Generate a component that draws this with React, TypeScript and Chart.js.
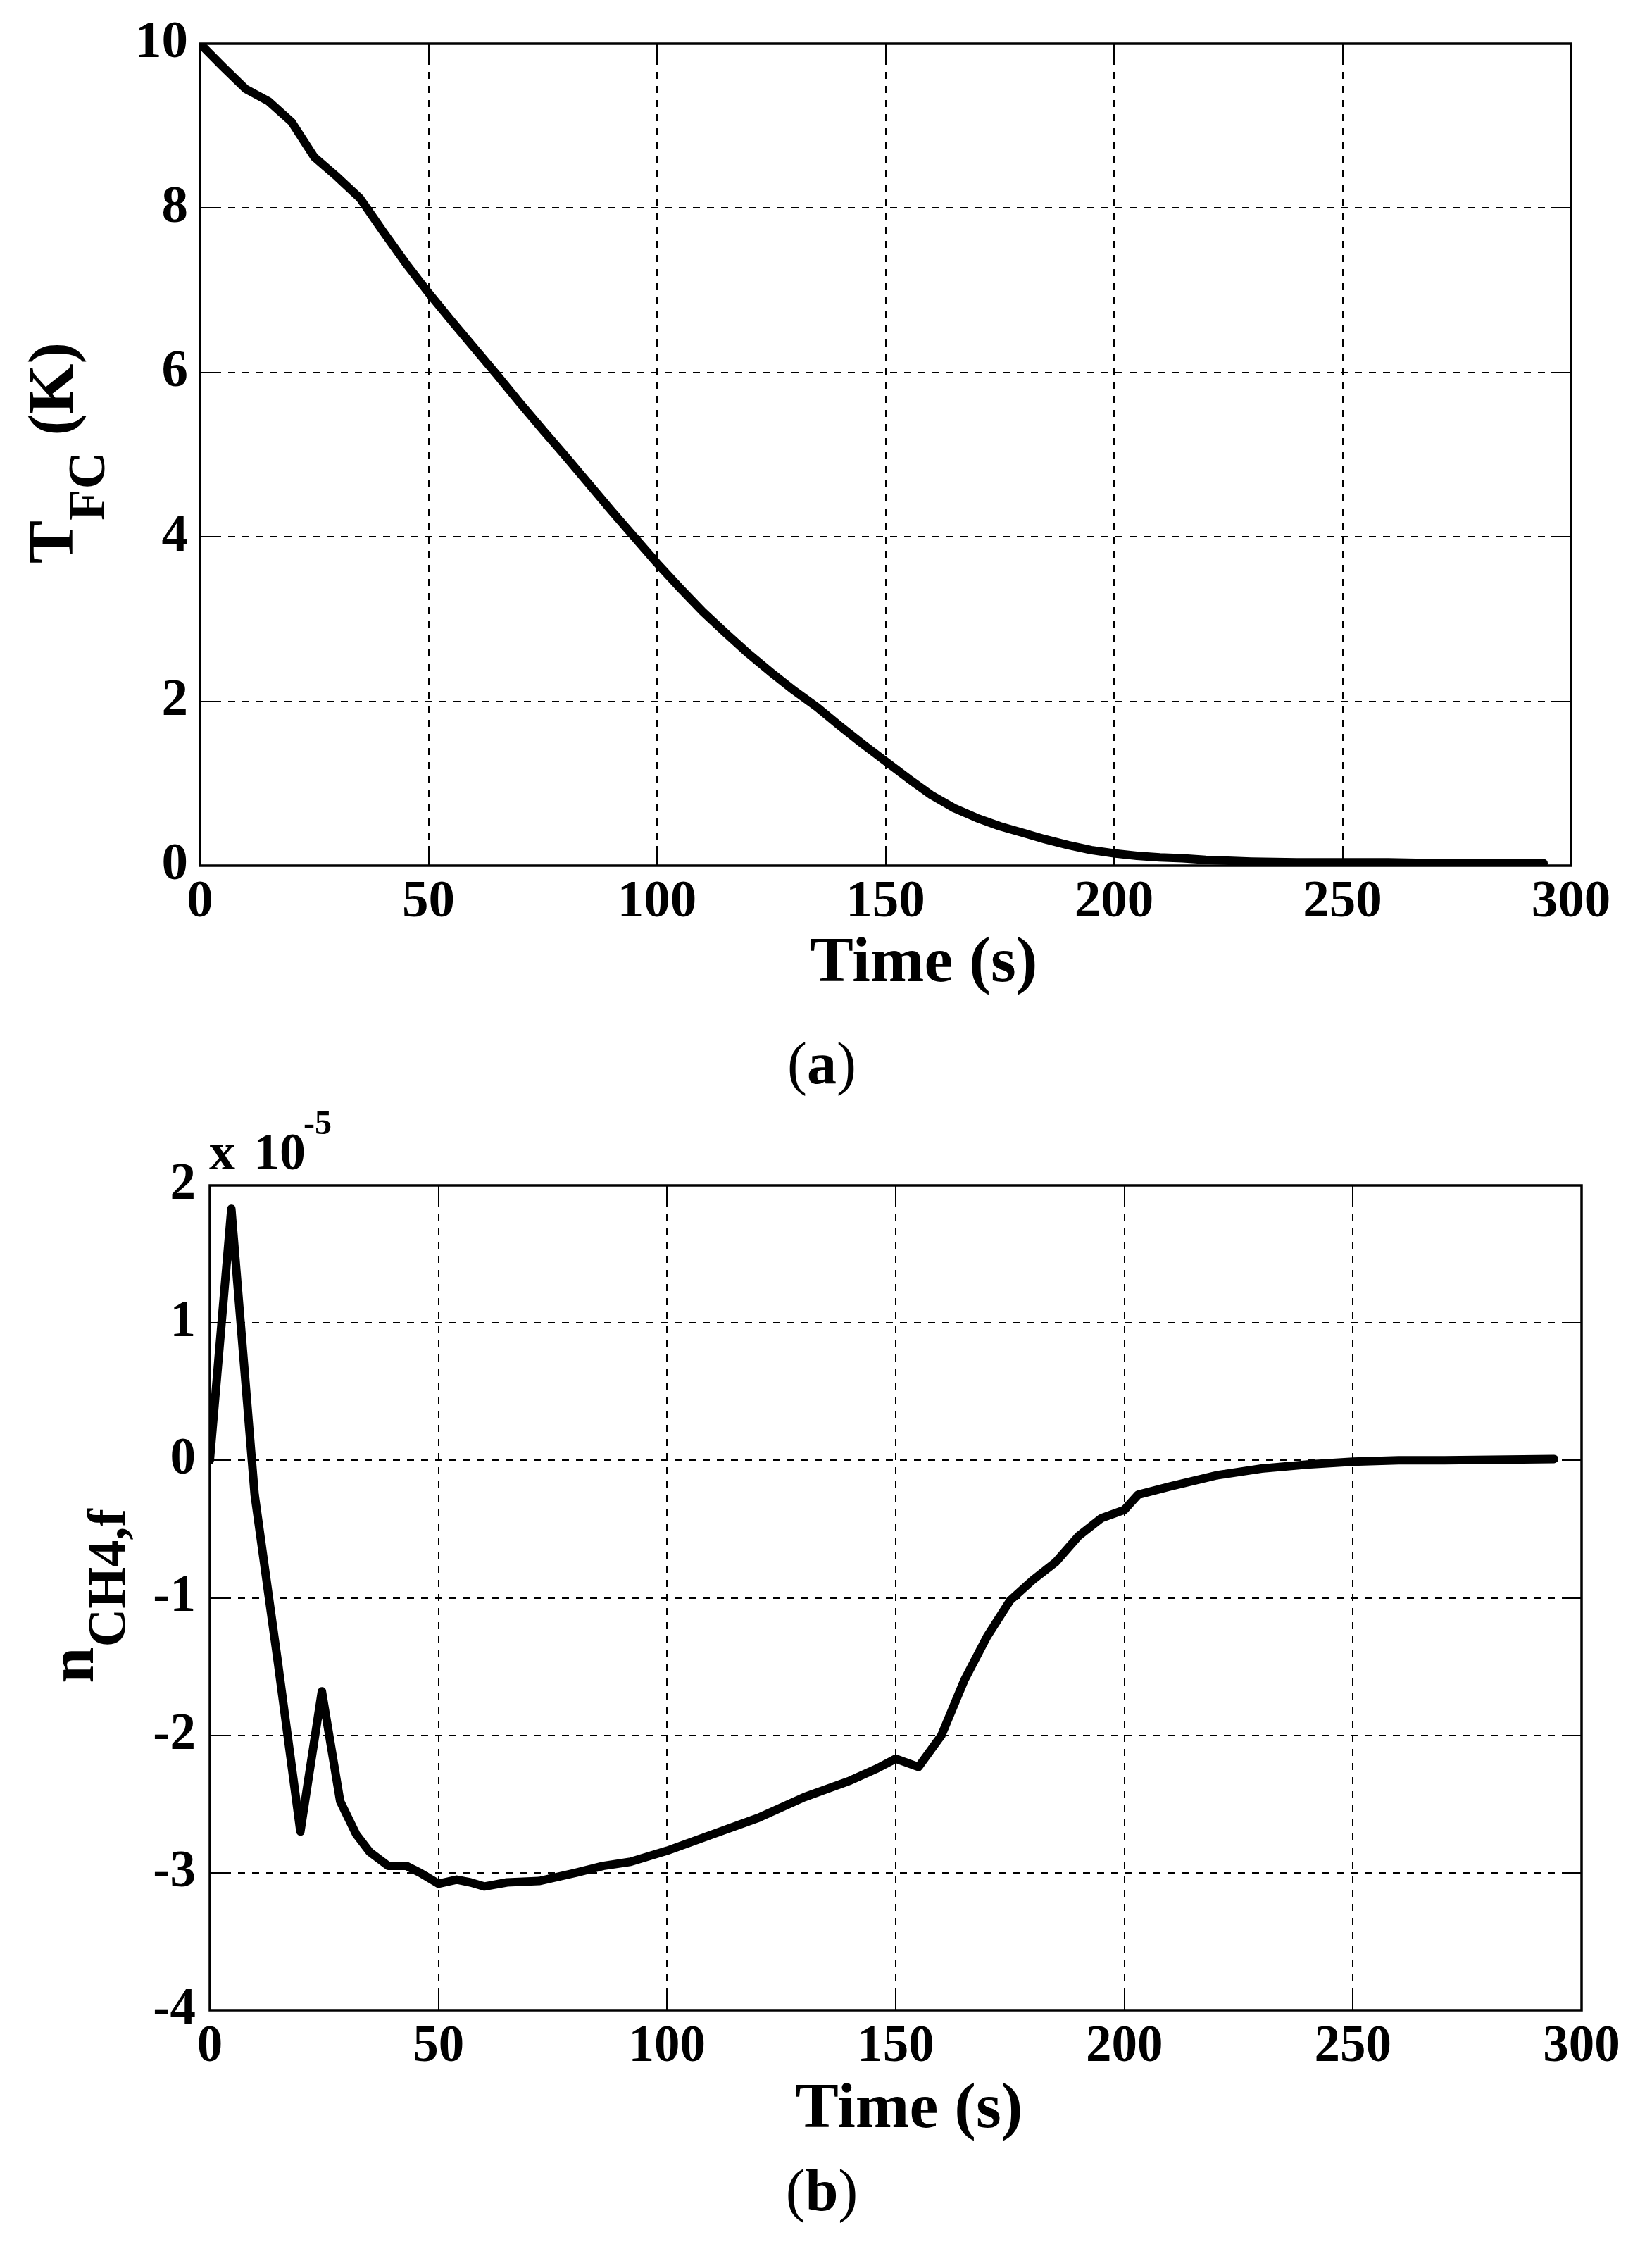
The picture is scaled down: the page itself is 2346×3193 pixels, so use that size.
import React, { useEffect, useRef } from 'react';
import { Chart, registerables } from 'chart.js';

Chart.register(...registerables);

const FONT = '"Liberation Serif", "Times New Roman", serif';

// ---- Chart (a): fuel-cell temperature deviation ----
const timeA = [0, 5, 10, 15, 20, 25, 30, 35, 40, 45, 50, 55, 60, 65, 70, 75, 80, 85, 90, 95, 100, 105, 110, 115, 120, 125, 130, 135, 140, 145, 150, 155, 160, 165, 170, 175, 180, 185, 190, 195, 200, 205, 210, 215, 220, 230, 240, 250, 260, 270, 280, 294];
const tempA = [10, 9.72, 9.45, 9.3, 9.05, 8.62, 8.38, 8.12, 7.72, 7.33, 6.97, 6.63, 6.3, 5.97, 5.63, 5.3, 4.98, 4.65, 4.32, 4.0, 3.68, 3.38, 3.09, 2.83, 2.58, 2.35, 2.13, 1.93, 1.7, 1.48, 1.27, 1.06, 0.86, 0.7, 0.58, 0.48, 0.4, 0.32, 0.25, 0.19, 0.15, 0.12, 0.1, 0.09, 0.07, 0.05, 0.04, 0.04, 0.04, 0.03, 0.03, 0.03];

// ---- Chart (b): methane molar flow deviation (x 1e-5) ----
const timeB = [0, 4.7, 9.8, 14.8, 19.8, 24.5, 28.5, 32, 35, 39, 43, 46, 50, 54, 57, 60, 65, 72, 80, 86, 92, 100, 110, 120, 130, 140, 146, 150, 155, 160, 165, 170, 175, 180, 185, 190, 195, 200, 203, 210, 220, 230, 240, 250, 260, 270, 294];
const methB = [0, 1.83, -0.25, -1.45, -2.7, -1.68, -2.48, -2.72, -2.85, -2.95, -2.95, -3.0, -3.08, -3.05, -3.07, -3.1, -3.07, -3.06, -3.0, -2.95, -2.92, -2.84, -2.72, -2.6, -2.45, -2.33, -2.24, -2.17, -2.23, -2.0, -1.6, -1.28, -1.02, -0.87, -0.74, -0.55, -0.42, -0.36, -0.25, -0.19, -0.11, -0.06, -0.03, -0.01, 0.0, 0.0, 0.01];

const xRange = { min: 0, max: 300, step: 50 };
const yRangeA = { min: 0, max: 10, step: 2 };
const yRangeB = { min: -4, max: 2, step: 1 };
const xTitle = 'Time (s)';
const yTitleA = { main: 'T', sub: 'FC', tail: ' (K)' };
const yTitleB = { main: 'n', sub: 'CH4,f', tail: '' };
const exponentText = { base: 'x', ten: '10', exp: '-5' };

type TitleSpec = { main: string; sub: string; tail: string };
type Geo = { mainX: number; subX: number; centerY: number; mainSize: number; subSize: number; xTitleCX: number; xTitleBase: number };

function framePlugin(title: TitleSpec, geo: Geo, extra?: (c: any) => void) {
  return {
    id: 'frame',
    beforeDatasetsDraw(chart: any) {
      const { ctx, chartArea: a, scales } = chart;
      const x = scales.x, y = scales.y;
      ctx.save();
      ctx.strokeStyle = '#000';
      ctx.lineWidth = 2;
      ctx.setLineDash([10, 10]);
      x.ticks.forEach((t: any) => {
        const px = Math.round(x.getPixelForValue(t.value));
        if (px > a.left + 2 && px < a.right - 2) {
          ctx.beginPath(); ctx.moveTo(px, a.top); ctx.lineTo(px, a.bottom); ctx.stroke();
        }
      });
      y.ticks.forEach((t: any) => {
        const py = Math.round(y.getPixelForValue(t.value));
        if (py > a.top + 2 && py < a.bottom - 2) {
          ctx.beginPath(); ctx.moveTo(a.left, py); ctx.lineTo(a.right, py); ctx.stroke();
        }
      });
      ctx.restore();
    },
    afterDatasetsDraw(chart: any) {
      const { ctx, chartArea: a, scales } = chart;
      const x = scales.x, y = scales.y;
      ctx.save();
      ctx.strokeStyle = '#000';
      ctx.setLineDash([]);
      ctx.lineWidth = 2;
      const L = 28;
      x.ticks.forEach((t: any) => {
        const px = Math.round(x.getPixelForValue(t.value));
        ctx.beginPath(); ctx.moveTo(px, a.bottom); ctx.lineTo(px, a.bottom - L); ctx.stroke();
        ctx.beginPath(); ctx.moveTo(px, a.top); ctx.lineTo(px, a.top + L); ctx.stroke();
      });
      y.ticks.forEach((t: any) => {
        const py = Math.round(y.getPixelForValue(t.value));
        ctx.beginPath(); ctx.moveTo(a.left, py); ctx.lineTo(a.left + L, py); ctx.stroke();
        ctx.beginPath(); ctx.moveTo(a.right, py); ctx.lineTo(a.right - L, py); ctx.stroke();
      });
      ctx.lineWidth = 3.5;
      ctx.strokeRect(a.left, a.top, a.right - a.left, a.bottom - a.top);
      ctx.restore();

      // x-axis title
      ctx.save();
      ctx.fillStyle = '#000';
      ctx.textBaseline = 'alphabetic';
      ctx.textAlign = 'center';
      ctx.font = `bold 92px ${FONT}`;
      ctx.fillText(xTitle, geo.xTitleCX, geo.xTitleBase);
      ctx.restore();

      // rotated y-axis title with subscript
      ctx.save();
      ctx.fillStyle = '#000';
      ctx.textBaseline = 'alphabetic';
      ctx.textAlign = 'left';
      const mainFont = `bold ${geo.mainSize}px ${FONT}`;
      const subFont = `bold ${geo.subSize}px ${FONT}`;
      ctx.font = mainFont;
      const w1 = ctx.measureText(title.main).width;
      const w3 = title.tail ? ctx.measureText(title.tail).width : 0;
      ctx.font = subFont;
      const w2 = ctx.measureText(title.sub).width;
      const total = w1 + w2 + w3;
      ctx.translate(geo.mainX, geo.centerY);
      ctx.rotate(-Math.PI / 2);
      let sx = -total / 2;
      ctx.font = mainFont;
      ctx.fillText(title.main, sx, 0);
      sx += w1;
      ctx.font = subFont;
      ctx.fillText(title.sub, sx, geo.subX - geo.mainX);
      sx += w2;
      if (title.tail) {
        ctx.font = mainFont;
        ctx.fillText(title.tail, sx, 0);
      }
      ctx.restore();
      if (extra) extra(chart);
    },
  };
}

function makeConfig(opts: {
  xs: number[]; ys: number[]; yRange: { min: number; max: number; step: number };
  padTop: number; padRight: number; yWidth: number; xHeight: number;
  tickSize: number; tickPadX: number; tickPadY: number;
  plugin: any;
}) {
  const points = opts.xs.map((t, i) => ({ x: t, y: opts.ys[i] }));
  return {
    type: 'line' as const,
    data: {
      datasets: [{
        data: points,
        borderColor: '#000',
        borderWidth: 12,
        pointRadius: 0,
        tension: 0,
        fill: false,
        borderJoinStyle: 'round' as const,
        borderCapStyle: 'round' as const,
      }],
    },
    options: {
      responsive: false,
      devicePixelRatio: 1,
      animation: false as const,
      layout: { padding: { top: opts.padTop, right: opts.padRight, left: 0, bottom: 0 } },
      plugins: { legend: { display: false }, tooltip: { enabled: false }, title: { display: false } },
      scales: {
        x: {
          type: 'linear' as const,
          min: xRange.min, max: xRange.max,
          grid: { display: false, drawTicks: false, tickLength: 0 },
          border: { display: false },
          ticks: {
            stepSize: xRange.step, color: '#000', padding: opts.tickPadX, maxRotation: 0,
            font: { family: FONT, size: opts.tickSize, weight: 'bold' as const, lineHeight: 1.2 },
          },
          title: { display: false },
          afterFit: (s: any) => { s.height = opts.xHeight; },
        },
        y: {
          type: 'linear' as const,
          min: opts.yRange.min, max: opts.yRange.max,
          grid: { display: false, drawTicks: false, tickLength: 0 },
          border: { display: false },
          ticks: {
            stepSize: opts.yRange.step, color: '#000', padding: opts.tickPadY,
            font: { family: FONT, size: opts.tickSize, weight: 'bold' as const, lineHeight: 1.2 },
          },
          afterFit: (s: any) => { s.width = opts.yWidth; },
        },
      },
    },
    plugins: [opts.plugin],
  };
}

function ChartCanvas({ config, width, height, top }: { config: any; width: number; height: number; top: number }) {
  const ref = useRef<HTMLCanvasElement | null>(null);
  useEffect(() => {
    if (!ref.current) return;
    const chart = new Chart(ref.current, config);
    return () => chart.destroy();
  }, [config]);
  return (
    <canvas ref={ref} width={width} height={height}
      style={{ position: 'absolute', left: 0, top, width, height, display: 'block' }} />
  );
}

const W = 2346;

const configA = makeConfig({
  xs: timeA, ys: tempA, yRange: yRangeA,
  padTop: 52, padRight: W - 2231, yWidth: 284, xHeight: 1450 - 1229,
  tickSize: 75, tickPadX: 8, tickPadY: 17,
  plugin: framePlugin(yTitleA, { mainX: 103, subX: 148, centerY: 643, mainSize: 92, subSize: 73, xTitleCX: 1312, xTitleBase: 1393 }),
});

const TOP_B = 1540;
const configB = makeConfig({
  xs: timeB, ys: methB, yRange: yRangeB,
  padTop: 1683 - TOP_B, padRight: W - 2246, yWidth: 298, xHeight: 1530 - (2854 - TOP_B),
  tickSize: 73, tickPadX: 9, tickPadY: 20,
  plugin: framePlugin(yTitleB, { mainX: 132, subX: 177, centerY: 2266 - TOP_B, mainSize: 92, subSize: 76, xTitleCX: 1291, xTitleBase: 3020 - TOP_B }, (chart: any) => {
    const ctx = chart.ctx;
    ctx.save();
    ctx.fillStyle = '#000';
    ctx.textAlign = 'left';
    ctx.textBaseline = 'alphabetic';
    ctx.font = `bold 74px ${FONT}`;
    ctx.fillText(exponentText.base, 297, 1660 - TOP_B);
    ctx.fillText(exponentText.ten, 360, 1660 - TOP_B);
    ctx.font = `bold 48px ${FONT}`;
    ctx.fillText(exponentText.exp, 431, 1610 - TOP_B);
    ctx.restore();
  }),
});

function Caption({ letter, top }: { letter: string; top: number }) {
  return (
    <div style={{
      position: 'absolute', left: 967, width: 400, top, textAlign: 'center',
      fontFamily: FONT, fontSize: 84, lineHeight: '84px', color: '#000',
    }}>
      (<b>{letter}</b>)
    </div>
  );
}

export default function App() {
  return (
    <div style={{ position: 'absolute', left: 0, top: 0, width: W, height: 3193, background: '#fff' }}>
      <ChartCanvas config={configA} width={W} height={1450} top={0} />
      <Caption letter="a" top={1468} />
      <ChartCanvas config={configB} width={W} height={1530} top={TOP_B} />
      <Caption letter="b" top={3068} />
    </div>
  );
}
